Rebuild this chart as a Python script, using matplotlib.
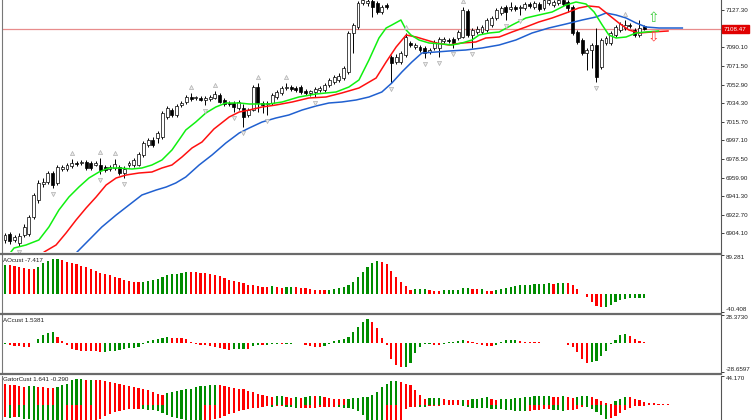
import matplotlib
matplotlib.use("Agg")
import matplotlib.pyplot as plt
from matplotlib.lines import Line2D

plt.rcParams['font.family'] = ['Liberation Sans', 'DejaVu Sans']

# ---- price candles (one per bar) ----
opens = [6897.5, 6903.5, 6897.5, 6894.5, 6902.5, 6903.5, 6920.5, 6937.5, 6953.5, 6955.5,
         6964.5, 6954.5, 6968.5, 6968.5, 6971.5, 6974.5, 6974.5, 6975.5, 6974.5, 6972.5,
         6972.5, 6970.5, 6968.5, 6969.5, 6970.5, 6964.5, 6972.5, 6972.5, 6972.5, 6982.5,
         6992.5, 6997.5, 6999.5, 7000.5, 7020.5, 7027.5, 7022.5, 7032.5, 7035.5, 7040.5,
         7039.5, 7039.5, 7037.5, 7038.5, 7039.5, 7042.5, 7037.5, 7034.5, 7034.5, 7029.5,
         7029.5, 7022.5, 7027.5, 7050.5, 7034.5, 7033.5, 7034.5, 7040.5, 7044.5, 7049.5,
         7050.5, 7049.5, 7050.5, 7046.5, 7044.5, 7045.5, 7047.5, 7047.5, 7052.5, 7055.5,
         7057.5, 7059.5, 7065.5, 7104.5, 7110.5, 7134.5, 7134.5, 7136.5, 7134.5, 7125.5,
         7132.5, 7080.5, 7075.5, 7075.5, 7082.5, 7094.5, 7090.5, 7090.5, 7089.5, 7085.5,
         7089.5, 7089.5, 7096.5, 7097.5, 7098.5, 7099.5, 7100.5, 7126.5, 7102.5, 7105.5,
         7105.5, 7107.5, 7112.5, 7119.5, 7124.5, 7130.5, 7128.5, 7130.5, 7129.5, 7129.5,
         7133.5, 7130.5, 7133.5, 7129.5, 7134.5, 7132.5, 7134.5, 7137.5, 7135.5, 7130.5,
         7105.5, 7097.5, 7084.5, 7087.5, 7092.5, 7070.5, 7094.5, 7094.5, 7102.5, 7107.5,
         7109.5, 7112.5, 7107.5, 7102.5, 7111.5]
highs = [6904.5, 6905.5, 6902.5, 6904.5, 6913.5, 6922.5, 6944.5, 6957.5, 6959.5, 6966.5,
         6966.5, 6972.5, 6972.5, 6974.5, 6978.5, 6976.5, 6977.5, 6977.5, 6976.5, 6976.5,
         6979.5, 6972.5, 6972.5, 6978.5, 6972.5, 6971.5, 6976.5, 6979.5, 6985.5, 6996.5,
         6999.5, 7000.5, 7006.5, 7026.5, 7031.5, 7029.5, 7033.5, 7036.5, 7042.5, 7044.5,
         7041.5, 7041.5, 7041.5, 7042.5, 7046.5, 7044.5, 7039.5, 7036.5, 7036.5, 7037.5,
         7033.5, 7029.5, 7052.5, 7054.5, 7036.5, 7036.5, 7044.5, 7047.5, 7051.5, 7054.5,
         7052.5, 7051.5, 7052.5, 7048.5, 7047.5, 7050.5, 7051.5, 7054.5, 7059.5, 7062.5,
         7064.5, 7071.5, 7106.5, 7114.5, 7136.5, 7139.5, 7138.5, 7138.5, 7136.5, 7132.5,
         7134.5, 7082.5, 7083.5, 7086.5, 7104.5, 7096.5, 7094.5, 7092.5, 7091.5, 7089.5,
         7097.5, 7100.5, 7100.5, 7099.5, 7100.5, 7107.5, 7130.5, 7128.5, 7109.5, 7111.5,
         7112.5, 7119.5, 7121.5, 7129.5, 7131.5, 7132.5, 7135.5, 7132.5, 7132.5, 7135.5,
         7135.5, 7136.5, 7135.5, 7139.5, 7139.5, 7137.5, 7138.5, 7138.5, 7137.5, 7132.5,
         7107.5, 7099.5, 7089.5, 7094.5, 7109.5, 7099.5, 7101.5, 7106.5, 7112.5, 7115.5,
         7117.5, 7114.5, 7109.5, 7117.5, 7112.5]
lows = [6894.5, 6893.5, 6895.5, 6891.5, 6900.5, 6901.5, 6918.5, 6934.5, 6950.5, 6953.5,
        6949.5, 6952.5, 6966.5, 6966.5, 6969.5, 6971.5, 6972.5, 6967.5, 6967.5, 6971.5,
        6963.5, 6965.5, 6966.5, 6967.5, 6962.5, 6959.5, 6970.5, 6970.5, 6971.5, 6980.5,
        6990.5, 6990.5, 6994.5, 6998.5, 7018.5, 7020.5, 7020.5, 7030.5, 7033.5, 7036.5,
        7037.5, 7036.5, 7032.5, 7036.5, 7038.5, 7034.5, 7031.5, 7031.5, 7025.5, 7027.5,
        7010.5, 7020.5, 7026.5, 7025.5, 7024.5, 7022.5, 7032.5, 7038.5, 7042.5, 7047.5,
        7046.5, 7045.5, 7043.5, 7042.5, 7041.5, 7040.5, 7045.5, 7045.5, 7050.5, 7053.5,
        7055.5, 7057.5, 7063.5, 7084.5, 7108.5, 7132.5, 7131.5, 7120.5, 7123.5, 7123.5,
        7128.5, 7054.5, 7073.5, 7073.5, 7080.5, 7090.5, 7088.5, 7085.5, 7079.5, 7083.5,
        7087.5, 7080.5, 7094.5, 7094.5, 7089.5, 7097.5, 7099.5, 7100.5, 7089.5, 7103.5,
        7103.5, 7105.5, 7110.5, 7117.5, 7122.5, 7117.5, 7126.5, 7126.5, 7122.5, 7127.5,
        7129.5, 7128.5, 7126.5, 7127.5, 7132.5, 7130.5, 7132.5, 7131.5, 7125.5, 7102.5,
        7093.5, 7082.5, 7067.5, 7069.5, 7055.5, 7068.5, 7092.5, 7092.5, 7100.5, 7105.5,
        7107.5, 7109.5, 7100.5, 7100.5, 7107.5]
closes = [6902.5, 6896.5, 6900.5, 6901.5, 6910.5, 6920.5, 6942.5, 6954.5, 6955.5, 6964.5,
          6952.5, 6970.5, 6970.5, 6972.5, 6974.5, 6973.5, 6975.5, 6969.5, 6969.5, 6974.5,
          6967.5, 6967.5, 6970.5, 6973.5, 6964.5, 6968.5, 6974.5, 6977.5, 6983.5, 6994.5,
          6997.5, 6992.5, 7004.5, 7024.5, 7029.5, 7022.5, 7031.5, 7034.5, 7040.5, 7038.5,
          7040.5, 7037.5, 7039.5, 7040.5, 7043.5, 7035.5, 7033.5, 7033.5, 7030.5, 7035.5,
          7020.5, 7027.5, 7050.5, 7034.5, 7032.5, 7034.5, 7042.5, 7045.5, 7049.5, 7050.5,
          7048.5, 7047.5, 7045.5, 7044.5, 7046.5, 7048.5, 7049.5, 7052.5, 7057.5, 7060.5,
          7061.5, 7069.5, 7104.5, 7112.5, 7134.5, 7137.5, 7136.5, 7130.5, 7125.5, 7130.5,
          7130.5, 7074.5, 7080.5, 7084.5, 7100.5, 7092.5, 7092.5, 7087.5, 7084.5, 7087.5,
          7095.5, 7098.5, 7098.5, 7096.5, 7094.5, 7105.5, 7127.5, 7102.5, 7107.5, 7108.5,
          7110.5, 7117.5, 7119.5, 7127.5, 7129.5, 7125.5, 7130.5, 7128.5, 7130.5, 7133.5,
          7131.5, 7134.5, 7128.5, 7137.5, 7137.5, 7135.5, 7137.5, 7133.5, 7129.5, 7104.5,
          7095.5, 7084.5, 7087.5, 7092.5, 7060.5, 7097.5, 7099.5, 7104.5, 7110.5, 7113.5,
          7112.5, 7111.5, 7102.5, 7109.5, 7108.47]

# ---- alligator lines (knots: bar position, price) ----
lips_x = [0.5, 1.9, 4.4, 7.1, 9.2, 11.3, 13.4, 15.5, 17.6, 19.7, 21.8, 23.9, 26.6, 28.7,
          30.8, 32.9, 35.0, 36.9, 37.9, 40.0, 42.1, 44.2, 46.3, 49.1, 51.2, 55.3, 58.1,
          61.6, 65.2, 69.4, 72.1, 74.2, 76.3, 78.4, 79.9, 81.1, 83.0, 84.1, 85.1, 86.8,
          88.9, 91.6, 93.7, 95.8, 97.9, 99.4, 101.5, 103.6, 106.3, 109.2, 111.9, 114.7,
          117.6, 119.7, 121.8, 123.5, 125.2, 126.6, 128.1, 130.2, 132.3, 134.4, 137.0]
lips_y = [6881.0, 6889.5, 6892.5, 6897.5, 6910.5, 6927.5, 6940.5, 6950.5, 6959.5, 6965.5,
          6969.5, 6969.5, 6968.5, 6969.5, 6972.5, 6977.5, 6987.5, 7000.5, 7007.5, 7015.5,
          7024.5, 7030.5, 7034.5, 7034.5, 7033.5, 7033.5, 7035.5, 7040.5, 7043.5, 7045.5,
          7050.5, 7057.5, 7077.5, 7099.5, 7109.5, 7112.5, 7117.5, 7107.5, 7102.5, 7097.5,
          7094.5, 7093.5, 7092.5, 7094.5, 7097.5, 7102.5, 7104.5, 7105.5, 7112.5, 7119.5,
          7122.5, 7125.5, 7132.5, 7135.5, 7133.5, 7125.5, 7112.5, 7102.5, 7099.5, 7100.5,
          7104.5, 7105.5, 7106.5]
teeth_x = [7.0, 8.2, 10.7, 12.8, 14.9, 17.0, 19.1, 21.2, 23.3, 25.4, 28.1, 30.8, 32.9,
           35.0, 37.1, 39.2, 41.3, 43.8, 47.0, 49.1, 51.2, 53.9, 56.8, 60.2, 63.7, 67.3,
           70.6, 74.2, 77.8, 79.9, 82.0, 84.1, 86.2, 88.3, 90.4, 93.1, 95.8, 98.7, 100.8,
           103.6, 106.3, 109.2, 111.9, 114.7, 117.6, 120.3, 122.4, 124.5, 126.6, 128.7,
           130.8, 132.9, 135.6, 139.0]
teeth_y = [6878.0, 6885.5, 6892.5, 6904.5, 6917.5, 6929.5, 6940.5, 6952.5, 6959.5, 6962.5,
           6964.5, 6965.5, 6969.5, 6972.5, 6980.5, 6989.5, 6995.5, 7008.5, 7020.5, 7025.5,
           7027.5, 7030.5, 7032.5, 7035.5, 7039.5, 7040.5, 7044.5, 7049.5, 7059.5, 7075.5,
           7090.5, 7102.5, 7100.5, 7097.5, 7094.5, 7092.5, 7094.5, 7095.5, 7099.5, 7100.5,
           7105.5, 7110.5, 7115.5, 7119.5, 7124.5, 7129.5, 7131.5, 7130.5, 7122.5, 7114.5,
           7107.5, 7104.5, 7105.5, 7106.5]
jaw_x = [13.5, 14.9, 17.6, 20.3, 23.3, 26.0, 28.7, 31.7, 33.8, 35.8, 37.9, 40.7, 43.4,
         46.3, 49.1, 51.2, 53.9, 56.8, 59.5, 62.3, 65.2, 67.9, 70.6, 73.6, 76.3, 79.0,
         81.1, 83.2, 85.3, 87.4, 90.4, 93.1, 96.6, 100.0, 103.6, 107.1, 110.5, 114.0,
         117.6, 121.0, 123.9, 126.0, 128.1, 130.2, 132.3, 134.4, 137.1, 142.0]
jaw_y = [6876.0, 6884.5, 6897.5, 6910.5, 6922.5, 6932.5, 6942.5, 6947.5, 6950.5, 6954.5,
         6960.5, 6972.5, 6982.5, 6994.5, 7004.5, 7009.5, 7015.5, 7019.5, 7022.5, 7027.5,
         7031.5, 7034.5, 7035.5, 7037.5, 7040.5, 7045.5, 7054.5, 7065.5, 7075.5, 7084.5,
         7085.5, 7086.5, 7087.5, 7089.5, 7092.5, 7097.5, 7104.5, 7109.5, 7113.5, 7117.5,
         7120.5, 7124.5, 7122.5, 7119.5, 7114.5, 7110.5, 7109.5, 7109.5]

# ---- fractals and signal arrows ----
fractal_up = [14, 20, 23, 39, 44, 53, 59, 84, 96, 106, 114, 130]
fractal_down = [3, 10, 20, 25, 42, 48, 50, 55, 65, 81, 88, 91, 94, 98, 105, 108, 124]
signal_bar = 136
signal_buy_price = 7119.5
signal_sell_price = 7101.5

# ---- oscillators ----
ao = [66.5, 65.8, 64.4, 61.4, 59.2, 57.6, 57.2, 62.6, 70.2, 75.5, 79.3, 79.6, 78.0, 74.2,
      70.4, 68.1, 65.0, 61.3, 57.5, 53.0, 49.1, 46.1, 43.1, 40.1, 36.3, 32.5, 30.2, 28.7,
      27.2, 28.7, 31.0, 33.2, 35.5, 40.0, 43.1, 45.3, 46.9, 49.1, 50.5, 50.0, 49.5, 49.0,
      47.5, 46.0, 43.5, 40.5, 37.0, 33.0, 29.5, 27.0, 24.5, 22.0, 20.5, 19.7, 17.4, 15.9,
      19.0, 17.4, 15.2, 15.9, 16.7, 16.0, 15.2, 13.7, 12.1, 10.6, 9.9, 9.1, 9.9, 11.4,
      13.7, 15.9, 21.2, 28.4, 40.2, 51.2, 63.0, 70.2, 75.8, 72.8, 67.9, 53.1, 40.2, 28.4,
      19.0, 9.1, 12.1, 12.3, 12.9, 9.9, 8.3, 7.6, 9.1, 9.9, 10.2, 10.6, 13.7, 14.4, 12.1,
      11.8, 12.3, 8.3, 7.6, 10.6, 12.1, 13.7, 17.4, 19.0, 20.5, 21.2, 22.0, 23.5, 24.2,
      24.4, 24.6, 24.1, 25.0, 25.6, 25.0, 21.0, 11.4, 0.3, -7.0, -17.0, -27.0, -29.5,
      -28.8, -24.0, -18.0, -13.5, -10.5, -9.0, -8.2, -7.8, -7.417]
ac = [-1.0, -1.5, -2.3, -3.0, -3.3, -3.5, 0.7, 4.0, 8.3, 10.7, 11.2, 6.7, 2.3, -1.7, -5.7,
      -6.7, -7.3, -7.5, -7.8, -8.0, -8.3, -8.2, -7.7, -7.3, -6.7, -5.7, -5.0, -4.3, -3.3,
      -1.0, 2.3, 3.3, 4.3, 5.7, 6.7, 5.7, 5.0, 4.9, 4.3, 1.7, -0.7, -1.7, -1.8, -2.7, -4.0,
      -5.0, -5.7, -6.2, -6.0, -5.8, -5.6, -6.0, -2.3, -1.5, -2.0, -1.3, -0.6, -0.4, -1.0,
      -0.5, -0.3, 0.2, 0.5, -1.7, -2.7, -3.3, -3.4, -2.3, -0.5, 2.3, 3.3, 4.3, 6.7, 11.0,
      16.7, 21.0, 24.3, 21.7, 15.0, 5.7, -1.7, -15.7, -21.7, -24.0, -23.3, -20.0, -10.0,
      -3.3, -0.7, -0.5, -1.7, -1.8, -0.7, 1.7, 1.8, 1.9, 3.3, 2.7, 1.0, -0.7, -1.7, -2.7,
      -2.8, -1.5, 1.7, 3.0, 3.4, 3.6, 2.4, 1.8, 1.4, 1.2, 1.0, 0.7, 0.8, 0.4, 0.2, 0.3,
      -1.3, -3.3, -9.0, -16.0, -19.5, -19.0, -17.5, -13.0, -8.0, -0.3, 3.8, 8.2, 9.8, 7.4,
      4.8, 2.6, 1.5381]
gator_up = [32.1, 30.6, 29.6, 28.6, 27.7, 27.9, 28.0, 27.2, 26.7, 26.2, 25.7, 27.2, 29.6,
            32.1, 37.0, 38.5, 38.6, 38.0, 38.2, 37.8, 37.0, 35.6, 34.6, 33.6, 32.1, 30.6,
            28.6, 27.2, 25.7, 24.7, 22.2, 19.8, 17.3, 15.8, 18.8, 19.8, 20.7, 22.2, 23.7,
            24.7, 27.2, 28.1, 28.6, 29.6, 29.7, 29.6, 28.6, 27.2, 25.7, 24.7, 23.7, 21.7,
            19.8, 17.3, 15.8, 13.8, 12.3, 13.3, 13.8, 12.3, 11.4, 11.9, 11.4, 11.9, 13.3,
            13.1, 13.4, 11.9, 10.9, 9.9, 9.6, 9.4, 9.9, 10.9, 11.4, 11.9, 12.8, 14.8, 19.8,
            27.2, 32.1, 36.0, 36.5, 34.6, 32.1, 29.6, 23.2, 15.8, 9.9, 10.4, 10.9, 11.1, 9.9,
            8.4, 7.4, 7.2, 8.4, 7.4, 8.9, 9.9, 11.4, 11.6, 9.9, 8.4, 9.4, 9.9, 10.0, 10.9,
            11.4, 12.3, 12.8, 13.3, 13.4, 13.5, 13.6, 12.8, 12.7, 13.3, 11.9, 11.4, 12.3,
            13.3, 13.8, 12.3, 9.9, 6.9, 4.0, 2.5, 6.4, 9.9, 11.9, 11.8, 9.9, 7.4, 4.9, 3.5,
            2.8, 2.3, 1.9, 1.641]
gator_down = [-18, -19, -17, -18, -20, -21, -22, -24, -26, -28, -29, -31, -32, -31, -30,
              -29, -28, -27, -26, -24, -20, -16, -13, -10, -8, -6.5, -5.5, -5, -4.8, -5.5,
              -7, -7.5, -8, -11, -15, -17, -19, -20.5, -22, -23.5, -24.5, -25.5, -24, -22.5,
              -20.5, -18.5, -16.5, -13.5, -11, -9, -7.5, -6, -4.5, -3.5, -2.5, -1.5, -1.8,
              -1.7, -1.7, -2.5, -3, -3.5, -3.5, -3.5, -3.5, -3.5, -3.2, -3, -3, -3, -3.2,
              -3.5, -3.8, -5.5, -8, -15, -23, -29, -34, -35, -34, -30, -28, -26, -5, -3, -2,
              -2.2, -2.5, -1.5, -1, -0.5, -0.3, -0.2, -0.2, -0.3, -1, -2.5, -3.5, -4, -4.3,
              -4.5, -4.8, -5, -5.5, -6.3, -7, -8, -8.8, -9, -8, -7, -6.5, -6.2, -6, -6.8,
              -7.5, -8, -7.2, -6.5, -5, -2, -3, -5.5, -10, -14.5, -20, -18.5, -16.5, -11,
              -7.5, -3.5, -0.8, -0.5, -0.4, -0.3, -0.290]

price_ticks = [7127.30, 7090.10, 7071.50, 7052.90, 7034.30, 7015.70, 6997.10, 6978.50,
               6959.90, 6941.30, 6922.70, 6904.10]
price_range = (6885.5, 7137.5)
ao_range = (-40.408, 89.281)
ac_range = (-28.6597, 28.3730)
gator_range = (-21.8, 44.170)

GREEN, RED = '#008c00', '#ff0000'
W, H = 752, 420
fig = plt.figure(figsize=(W / 100, H / 100), dpi=100)
fig.patch.set_facecolor('white')


def px_axes(x0, y0, x1, y1):
    return fig.add_axes([x0 / W, 1 - y1 / H, (x1 - x0) / W, (y1 - y0) / H])


x_left, x_right = 2, 721
bar0, step = 5.0, 4.77
xlim = ((x_left - bar0) / step, (x_right - bar0) / step)

ax = px_axes(x_left, 0, x_right, 252)
ax_ao = px_axes(x_left, 255, x_right, 312)
ax_ac = px_axes(x_left, 315, x_right, 372)
ax_g = px_axes(x_left, 375.5, x_right, 420)


def style(a, ylim):
    a.set_xlim(*xlim)
    a.set_ylim(*ylim)
    a.set_xticks([])
    a.yaxis.tick_right()
    a.tick_params(axis='y', length=2.5, width=0.6, pad=1, labelsize=4.5,
                  colors='#202020')
    for s in ('top', 'bottom'):
        a.spines[s].set_visible(False)
    a.spines['left'].set_color('#777777')
    a.spines['left'].set_linewidth(0.8)
    a.spines['right'].set_color('#555555')
    a.spines['right'].set_linewidth(0.8)


for a, r in ((ax, price_range), (ax_ao, ao_range), (ax_ac, ac_range), (ax_g, gator_range)):
    style(a, r)

# ---- main chart ----
idx = list(range(len(closes)))
ax.vlines(idx, lows, highs, colors='black', linewidth=0.7, zorder=2)
bottoms = [min(o, c) for o, c in zip(opens, closes)]
heights = [max(abs(c - o), 0.7) for o, c in zip(opens, closes)]
faces = ['white' if c >= o else 'black' for o, c in zip(opens, closes)]
ax.bar(idx, heights, bottom=bottoms, width=0.62, color=faces, edgecolor='black',
       linewidth=0.5, zorder=3)

ax.plot(jaw_x, jaw_y, color='#2060d0', lw=1.1, zorder=4)
ax.plot(teeth_x, teeth_y, color='#ff1010', lw=1.1, zorder=4)
ax.plot(lips_x, lips_y, color='#10f010', lw=1.1, zorder=4)

ax.plot(fractal_up, [highs[i] + 5.5 for i in fractal_up], ls='none', marker='^',
        ms=3.0, mfc='#ececec', mec='#b0b0b0', mew=0.5, zorder=5)
ax.plot(fractal_down, [lows[i] - 6.0 for i in fractal_down], ls='none', marker='v',
        ms=3.0, mfc='#ececec', mec='#b0b0b0', mew=0.5, zorder=5)

ax.text(signal_bar, signal_buy_price, '\u21e7', color='#3ccc3c', fontsize=10,
        family='DejaVu Sans', ha='center', va='center', zorder=6)
ax.text(signal_bar, signal_sell_price, '\u21e9', color='#ff3c3c', fontsize=10,
        family='DejaVu Sans', ha='center', va='center', zorder=6)

last_price = closes[-1]
ax.axhline(last_price, color='#e88c8c', lw=0.9, zorder=1)
ax.set_yticks(price_ticks)
ax.set_yticklabels([f"{t:.2f}" for t in price_ticks])
ax.annotate(f"{last_price:.2f}", xy=(1, last_price), xycoords=('axes fraction', 'data'),
            xytext=(2.2, 0), textcoords='offset points', ha='left', va='center',
            fontsize=4.5, color='white', annotation_clip=False,
            bbox=dict(boxstyle='square,pad=0.3', fc='#e00000', ec='#e00000'))


# ---- histograms ----
def rising_colors(vals, first):
    cols = [first]
    for a, b in zip(vals[:-1], vals[1:]):
        cols.append(GREEN if b > a else RED)
    return cols


ax_ao.bar(range(len(ao)), ao, width=0.46, color=rising_colors(ao, GREEN), linewidth=0)
ax_ac.bar(range(len(ac)), ac, width=0.46, color=rising_colors(ac, GREEN), linewidth=0)
ax_g.bar(range(len(gator_up)), gator_up, width=0.46, color=rising_colors(gator_up, RED),
         linewidth=0)
abs_down = [abs(v) for v in gator_down]
ax_g.bar(range(len(gator_down)), gator_down, width=0.46,
         color=rising_colors(abs_down, RED), linewidth=0)

for a, r in ((ax_ao, ao_range), (ax_ac, ac_range)):
    a.set_yticks(list(r))
    a.set_yticklabels([f"{r[0]:g}", f"{r[1]:g}"] if a is ax_ao else
                      [f"{r[0]:.4f}", f"{r[1]:.4f}"])
    labs = a.get_yticklabels()
    labs[0].set_va('bottom')
    labs[1].set_va('top')
ax_g.set_yticks([gator_range[1]])
ax_g.set_yticklabels([f"{gator_range[1]:.3f}"])
ax_g.get_yticklabels()[0].set_va('top')

ax_ao.text(0.002, 0.9, f"AOcust {ao[-1]:.3f}", transform=ax_ao.transAxes, fontsize=4.5,
           va='center', ha='left', color='#202020')
ax_ac.text(0.002, 0.9, f"ACcust {ac[-1]:.4f}", transform=ax_ac.transAxes, fontsize=4.5,
           va='center', ha='left', color='#202020')
ax_g.text(0.002, 0.9, f"GatorCust {gator_up[-1]:.3f} {gator_down[-1]:.3f}",
          transform=ax_g.transAxes, fontsize=4.5, va='center', ha='left', color='#202020')

# panel separators
for yy in (253.6, 313.6, 373.8):
    fig.add_artist(Line2D([0, x_right / W], [1 - yy / H, 1 - yy / H], color='#6a6a6a',
                          lw=1.6, transform=fig.transFigure))

fig.savefig('out.png', dpi=100, facecolor='white')
